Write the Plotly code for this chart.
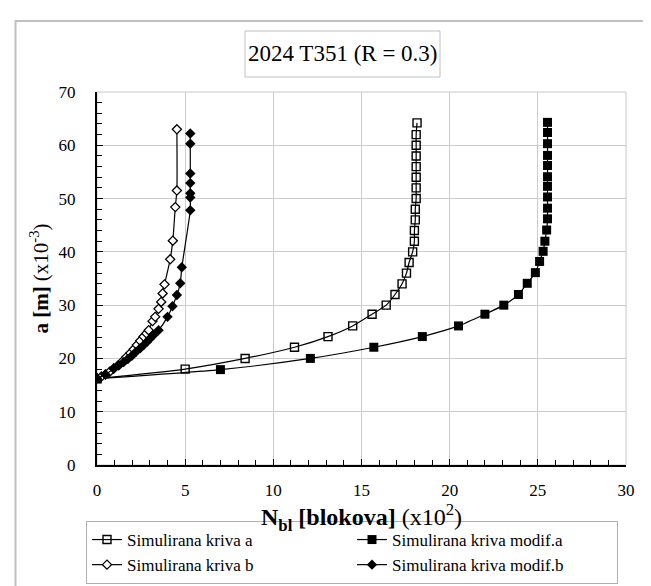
import plotly.graph_objects as go

# Data (x in x10^2 blocks, y in x10^-3 m)
a_x = [0, 5.0, 8.4, 11.2, 13.1, 14.5, 15.6, 16.4, 16.9, 17.3, 17.55, 17.7, 17.9, 18.0, 18.0,
       18.05, 18.05, 18.1, 18.1, 18.1, 18.1, 18.1, 18.1, 18.1, 18.15]
a_y = [16.2, 18.0, 20.0, 22.1, 24.1, 26.1, 28.3, 30.0, 32.0, 34.0, 36.0, 38.0, 40.0, 42.0, 44.0,
       46.0, 48.0, 50.0, 52.0, 54.0, 56.0, 58.0, 60.0, 62.0, 64.2]

ma_x = [0, 7.0, 12.1, 15.7, 18.45, 20.5, 22.0, 23.07, 23.9, 24.4, 24.86, 25.1, 25.3, 25.4, 25.5,
        25.55, 25.55, 25.55, 25.55, 25.55, 25.55, 25.55, 25.55, 25.55, 25.55]
ma_y = [16.2, 17.9, 20.0, 22.1, 24.1, 26.1, 28.3, 30.0, 32.0, 34.1, 36.1, 38.2, 40.1, 42.0, 44.1,
        46.2, 48.2, 50.3, 52.3, 54.1, 56.2, 58.1, 60.3, 62.4, 64.3]

b_x = [0, 0.25, 0.48, 0.72, 0.95, 1.2, 1.42, 1.65, 1.89, 2.08, 2.26, 2.45, 2.64, 2.8, 2.93,
       3.15, 3.30, 3.49, 3.64, 3.72, 3.83, 4.15, 4.30, 4.44, 4.53, 4.53]
b_y = [16.3, 16.6, 17.0, 17.5, 18.1, 18.7, 19.4, 20.2, 21.0, 21.7, 22.5, 23.3, 24.1, 24.7, 25.3,
       27.0, 27.8, 29.3, 30.6, 32.2, 33.9, 38.6, 42.1, 48.4, 51.5, 63.0]

mb_x = [0, 0.48, 0.95, 1.25, 1.51, 1.75, 1.98, 2.2, 2.45, 2.65, 2.83, 3.0, 3.21, 3.49, 4.0,
        4.28, 4.53, 4.72, 4.81, 5.29, 5.29, 5.29, 5.29, 5.29, 5.29, 5.29]
mb_y = [16.3, 17.0, 18.1, 18.7, 19.3, 19.9, 20.5, 21.2, 21.9, 22.5, 23.1, 23.7, 24.4, 25.3, 27.8,
        29.8, 31.9, 34.1, 37.1, 47.8, 50.2, 51.0, 52.9, 54.7, 60.3, 62.2]

names = ["Simulirana kriva a", "Simulirana kriva modif.a", "Simulirana kriva b", "Simulirana kriva modif.b"]

FONT = "Liberation Serif"
W, H = 651, 586
L, R, T, B = 89, 33, 84, 129
pw, ph = W - L - R, H - T - B


def fx(px):
    return (px - L) / pw


def fy(py):
    return (H - B - py) / ph


line = dict(color="black", width=1.2, shape="spline", smoothing=0.6)

fig = go.Figure()
fig.add_trace(go.Scatter(x=a_x, y=a_y, name=names[0], mode="lines+markers", line=line,
                         marker=dict(symbol="square-open", size=8, color="black", line=dict(width=1.4))))
fig.add_trace(go.Scatter(x=ma_x, y=ma_y, name=names[1], mode="lines+markers", line=line,
                         marker=dict(symbol="square", size=9, color="black")))
fig.add_trace(go.Scatter(x=b_x, y=b_y, name=names[2], mode="lines+markers", line=line,
                         marker=dict(symbol="diamond", size=7, color="white", line=dict(width=1.3, color="black"))))
fig.add_trace(go.Scatter(x=mb_x, y=mb_y, name=names[3], mode="lines+markers", line=line,
                         marker=dict(symbol="diamond", size=8, color="black")))

fig.update_layout(
    width=W, height=H,
    margin=dict(l=L, r=R, t=T, b=B, autoexpand=False),
    paper_bgcolor="white", plot_bgcolor="white",
    font=dict(family=FONT, color="black", size=17),
    showlegend=True,
    legend=dict(orientation="h", x=fx(78), y=fy(513), xanchor="left", yanchor="top",
                entrywidth=220, entrywidthmode="pixels",
                bordercolor="#b0b0b0", borderwidth=1, bgcolor="white",
                font=dict(family=FONT, size=17), tracegroupgap=0),
    xaxis=dict(range=[0, 30], dtick=5, tick0=0, showgrid=True, gridcolor="#cccccc", gridwidth=1,
               showline=True, linecolor="black", linewidth=2, zeroline=False,
               ticks="inside", ticklen=6, tickcolor="black", tickwidth=1,
               ticklabelstandoff=9,
               minor=dict(dtick=1, ticks="inside", ticklen=5, tickcolor="black", showgrid=False),
               tickfont=dict(family=FONT, size=17),
               title=dict(text="<b>N<sub>bl</sub> [blokova]</b> (x10<sup>2</sup>)",
                          font=dict(family=FONT, size=24), standoff=0)),
    yaxis=dict(range=[0, 70], dtick=10, tick0=0, showgrid=True, gridcolor="#cccccc", gridwidth=1,
               showline=True, linecolor="black", linewidth=2, zeroline=False,
               ticks="inside", ticklen=6, tickcolor="black", tickwidth=1,
               ticklabelstandoff=16,
               minor=dict(dtick=2, ticks="inside", ticklen=5, tickcolor="black", showgrid=False),
               tickfont=dict(family=FONT, size=17),
               title=dict(text="<b>a [m]</b> (x10<sup>-3</sup>)",
                          font=dict(family=FONT, size=21), standoff=4)),
    shapes=[
        # plot area border
        dict(type="rect", xref="paper", yref="paper", x0=0, x1=1, y0=0, y1=1,
             line=dict(color="#c8c8c8", width=1), layer="below"),
        # outer chart border
        dict(type="rect", xref="paper", yref="paper", x0=fx(7.5), x1=fx(700), y0=fy(700), y1=fy(13),
             line=dict(color="#c0c0c0", width=2), layer="below"),
        # title box
        dict(type="rect", xref="paper", yref="paper", x0=fx(237), x1=fx(432), y0=fy(69), y1=fy(23),
             line=dict(color="#c0c0c0", width=1), layer="below"),
    ],
    annotations=[
        dict(text="2024 T351 (R = 0.3)", xref="paper", yref="paper", x=fx(334.5), y=fy(46),
             xanchor="center", yanchor="middle", showarrow=False,
             font=dict(family=FONT, size=23, color="black")),
    ],
)

fig.write_html("out.html")
